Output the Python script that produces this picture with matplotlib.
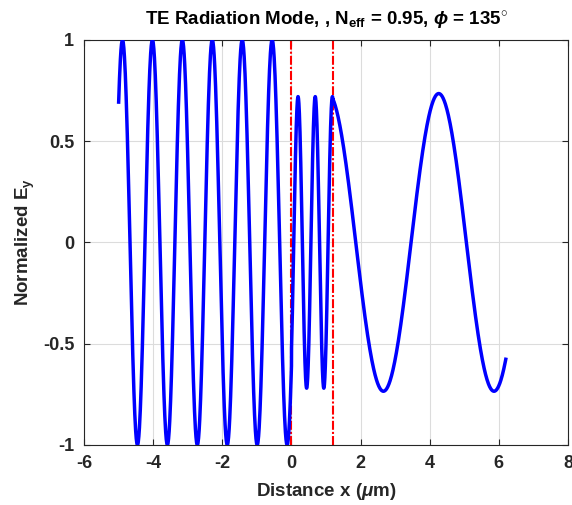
import numpy as np
import matplotlib
matplotlib.use("Agg")
import matplotlib.pyplot as plt

plt.rcParams['font.family'] = ['Liberation Sans', 'DejaVu Sans']
plt.rcParams['font.weight'] = 'bold'
plt.rcParams['axes.unicode_minus'] = False
plt.rcParams['mathtext.fontset'] = 'custom'
plt.rcParams['mathtext.rm'] = 'Liberation Sans:bold'
plt.rcParams['mathtext.it'] = 'Liberation Sans:bold:italic'
plt.rcParams['mathtext.bf'] = 'Liberation Sans:bold'

# Piecewise field description
region_bounds = [(-5.0, 0.0), (0.0, 1.2), (1.2, 6.2)]
region_amplitude = [1.0, 0.72, 0.735]
region_period = [0.866, 0.497, 3.2]
region_peak_at = [-4.889, 0.19, 4.26]
interfaces = [0.0, 1.2]

x_ticks = [-6, -4, -2, 0, 2, 4, 6, 8]
y_ticks = [-1, -0.5, 0, 0.5, 1]
y_ticklabels = ['-1', '-0.5', '0', '0.5', '1']

fig = plt.figure(figsize=(5.72, 5.05), dpi=100)
ax = fig.add_axes([0.147, 0.119, 0.846, 0.802])

xs_all, ys_all = [], []
for (a, b), A, P, x0 in zip(region_bounds, region_amplitude, region_period, region_peak_at):
    xs = np.linspace(a, b, 600)
    ys = A * np.cos(2 * np.pi / P * (xs - x0))
    xs_all.append(xs)
    ys_all.append(ys)
ax.plot(np.concatenate(xs_all), np.concatenate(ys_all), color='#0000ff', lw=2.5, zorder=3)

for xi in interfaces:
    ax.axvline(xi, color='#ff0000', lw=1.5, ls=(0, (4.3, 1.0, 1.0, 1.0)), zorder=2)

ax.set_xlim(-6, 8)
ax.set_ylim(-1, 1)
ax.set_xticks(x_ticks)
ax.set_yticks(y_ticks)
ax.set_yticklabels(y_ticklabels)
ax.grid(True, color='#dcdcdc', lw=0.8)
ax.set_axisbelow(True)
ax.tick_params(direction='in', top=True, right=True, labelsize=13, length=4, pad=7,
               color='#262626', labelcolor='#262626')
for s in ax.spines.values():
    s.set_color('#262626')
    s.set_linewidth(0.8)

ax.set_xlabel(r'Distance x ($\mu$m)', fontsize=13.5, fontweight='bold', color='#262626', labelpad=7)
ax.set_ylabel(r'Normalized E$_{\mathrm{y}}$', fontsize=13.5, fontweight='bold', color='#262626', labelpad=4)
ax.set_title(r'TE Radiation Mode, , N$_{\mathrm{eff}}$ = 0.95, $\phi$ = 135$^{\circ}$',
             fontsize=13.5, fontweight='bold', color='#000000', pad=10)

fig.savefig('out.png', dpi=100)
